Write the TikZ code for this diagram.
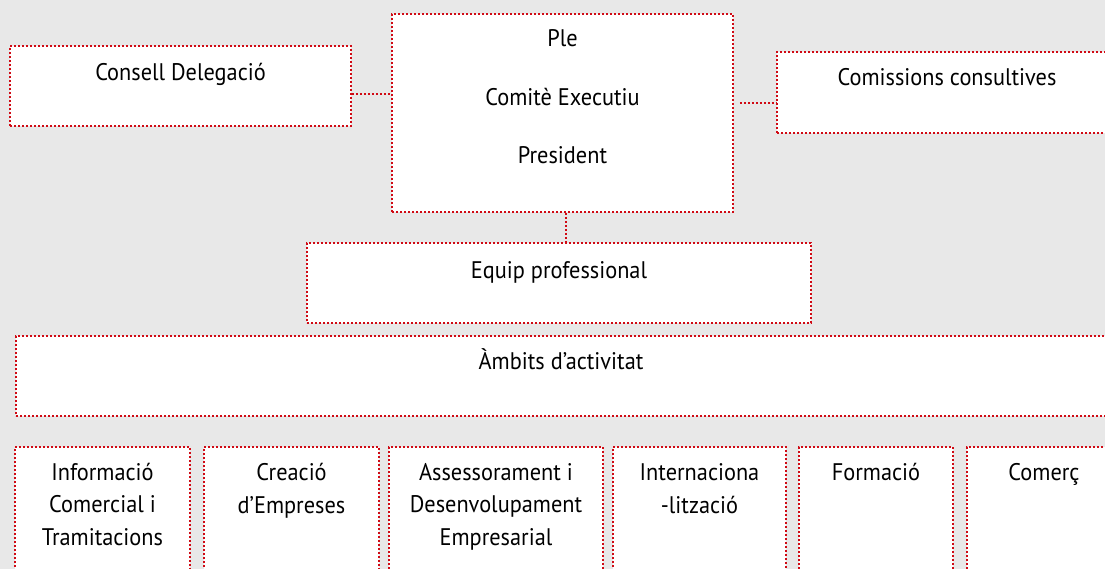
\documentclass[tikz,border=0pt]{standalone}
\usepackage{fontspec}
\setmainfont{PT Sans}[FakeStretch=0.93]
\usetikzlibrary{calc}
\definecolor{dotred}{RGB}{208,10,20}
\definecolor{photogray}{RGB}{232,232,232}
\tikzset{
  orgbox/.style={draw=dotred, line width=1.6pt, dash pattern=on 2pt off 2pt, fill=white, inner sep=0pt},
  orglink/.style={draw=dotred, line width=1.6pt, dash pattern=on 2pt off 2pt},
  orgtext/.style={anchor=base, align=center, inner sep=0pt, font=\fontsize{24}{32.5}\selectfont},
}

\begin{document}
\begin{tikzpicture}[x=1pt, y=-1pt]
		%%%%% START %%%%%
		\useasboundingbox (0, 0) rectangle (1105, 569);
		\clip (0, 0) rectangle (1105, 569);
		\fill[photogray] (0, 0) rectangle (1105, 569);
		
		% governing bodies
		\node[orgbox, minimum width=341, minimum height=80] (consell) at (180.5, 86) {};
		\node[orgbox, minimum width=341, minimum height=198] (ple) at (562.5, 113) {};
		\node[orgbox, minimum width=340, minimum height=81] (comissions) at (947, 92.5) {};
		
		% multi-line texts sit on the baseline of their last line
		\node[orgtext] (consellT) at (180.5, 81) {Consell Delegació};
		\node[orgtext, font=\fontsize{24}{58.7}\selectfont] (pleT) at (562.5, 164) {Ple\\Comitè Executiu\\President};
		\node[orgtext] (comissionsT) at (947, 86) {Comissions consultives};
		
		\draw[orglink] (consell.east |- 0, 94) -- (ple.west |- 0, 94);
		\draw[orglink] ([xshift=6]ple.east |- 0, 103) -- (comissions.west |- 0, 103);
		\draw[orglink] ([xshift=3.5]ple.south) -- ([xshift=3.5]ple.south |- 0, 243);
		
		% staff and areas
		\node[orgbox, minimum width=504, minimum height=80] (equip) at (559, 283) {};
		\node[orgtext] (equipT) at (559, 278) {Equip professional};
		
		\node[orgbox, minimum width=1090, minimum height=80] (ambits) at (561, 376) {};
		\node[orgtext] (ambitsT) at (561, 369) {Àmbits d’activitat};
		
		% activity areas
		\node[orgbox, minimum width=175, minimum height=140] (info) at (102.5, 517) {};
		\node[orgbox, minimum width=175, minimum height=140] (creacio) at (291.5, 517) {};
		\node[orgbox, minimum width=214, minimum height=140] (assess) at (496, 517) {};
		\node[orgbox, minimum width=173, minimum height=140] (internac) at (699.5, 517) {};
		\node[orgbox, minimum width=154, minimum height=140] (formacio) at (876, 517) {};
		\node[orgbox, minimum width=154, minimum height=140] (comerc) at (1044, 517) {};
		
		\node[orgtext] (infoT) at (102.5, 545) {Informació\\Comercial i\\Tramitacions};
		\node[orgtext] (creacioT) at (291.5, 513) {Creació\\d’Empreses};
		\node[orgtext] (assessT) at (496, 545) {Assessorament i\\Desenvolupament\\Empresarial};
		\node[orgtext] (internacT) at (699.5, 513) {Internaciona\\-lització};
		\node[orgtext] (formacioT) at (876, 480) {Formació};
		\node[orgtext] (comercT) at (1044, 480) {Comerç};
		
		%%%%% END %%%%%
\end{tikzpicture}
\end{document}
